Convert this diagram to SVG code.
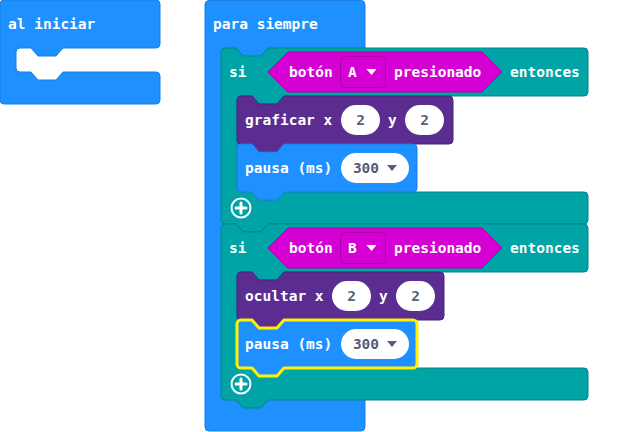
<svg xmlns="http://www.w3.org/2000/svg" width="640" height="432" viewBox="0 0 640 432">
  <style>
    .lbl { font-family: "DejaVu Sans Mono", "Liberation Mono", monospace; font-weight: bold; font-size: 14.5px; fill: #ffffff; }
    .num { font-family: "DejaVu Sans Mono", "Liberation Mono", monospace; font-weight: bold; font-size: 14.5px; fill: #575E75; text-anchor: middle; }
    .basic { fill: #1E90FF; stroke: #1a7fe3; stroke-width: 1; }
    .logic { fill: #00A4A6; stroke: #008587; stroke-width: 1; }
    .led { fill: #5C2D91; stroke: #4b2477; stroke-width: 1; }
    .input { fill: #D400D4; stroke: #a800a8; stroke-width: 1; }
    .dd { fill: #D400D4; stroke: #aa00aa; stroke-width: 1; }
    .oval { fill: #ffffff; }
    .arrow-w { fill: #ffffff; }
    .arrow-g { fill: #575E75; }
    .sel { fill: none; stroke: #FFF200; stroke-width: 3; stroke-linejoin: round; }
    .plus-ring { fill: none; stroke: #ffffff; stroke-width: 2; }
    .plus-bar { stroke: #ffffff; stroke-width: 3; stroke-linecap: round; }
  </style>
  <rect width="640" height="432" fill="#ffffff"/>

  <!-- "al iniciar" event block with an empty statement slot -->
  <g id="al-iniciar">
    <path class="basic" d="M0,4 a4,4 0 0 1 4,-4 H156 a4,4 0 0 1 4,4 V44 a4,4 0 0 1 -4,4 H63 l-7,8 H38 l-7,-8 H20 a4,4 0 0 0 -4,4 V68 a4,4 0 0 0 4,4 H31 l7,8 H56 l7,-8 H156 a4,4 0 0 1 4,4 V100 a4,4 0 0 1 -4,4 H4 a4,4 0 0 1 -4,-4 Z"/>
    <text class="lbl" x="8" y="29">al iniciar</text>
  </g>

  <!-- "para siempre" loop block -->
  <g id="para-siempre">
    <rect class="basic" x="205" y="0.5" width="160" height="430.5" rx="4"/>
    <text class="lbl" x="213" y="29">para siempre</text>
  </g>

  <!-- first if block: button A -->
  <g id="si-boton-a">
    <path class="logic" d="M221,52 a4,4 0 0 1 4,-4 H236 l7,8 H261 l7,-8 H584 a4,4 0 0 1 4,4 V92 a4,4 0 0 1 -4,4 H284 l-7,8 H259 l-7,-8 H241 a4,4 0 0 0 -4,4 V188 a4,4 0 0 0 4,4 H252 l7,8 H277 l7,-8 H584 a4,4 0 0 1 4,4 V220 a4,4 0 0 1 -4,4 H268 l-7,8 H243 l-7,-8 H225 a4,4 0 0 1 -4,-4 Z"/>
    <text class="lbl" x="229" y="77">si</text>
    <path class="input" d="M268,72 L288,52 H482 L502,72 L482,92 H288 Z"/>
    <text class="lbl" x="289" y="77">botón</text>
    <rect class="dd" x="340.5" y="56.5" width="45" height="31" rx="4"/>
    <text class="lbl" x="348" y="77">A</text>
    <path class="arrow-w" d="M366.5,69 h10 l-5,6 z"/>
    <text class="lbl" x="394" y="77">presionado</text>
    <text class="lbl" x="510" y="77">entonces</text>
    <circle class="plus-ring" cx="241" cy="208" r="9.5"/>
    <line class="plus-bar" x1="236" y1="208" x2="246" y2="208"/>
    <line class="plus-bar" x1="241" y1="203" x2="241" y2="213"/>
  </g>

  <!-- graficar x 2 y 2 -->
  <g id="graficar">
    <path class="led" d="M237,100 a4,4 0 0 1 4,-4 H252 l7,8 H277 l7,-8 H449 a4,4 0 0 1 4,4 V140 a4,4 0 0 1 -4,4 H284 l-7,8 H259 l-7,-8 H241 a4,4 0 0 1 -4,-4 Z"/>
    <text class="lbl" x="245" y="125">graficar x</text>
    <rect class="oval" x="341" y="105" width="39" height="30" rx="15"/>
    <text class="num" x="360.5" y="125">2</text>
    <text class="lbl" x="388" y="125">y</text>
    <rect class="oval" x="405" y="105" width="39" height="30" rx="15"/>
    <text class="num" x="424.5" y="125">2</text>
  </g>

  <!-- pausa (ms) 300 -->
  <g id="pausa-1">
    <path class="basic" d="M237,148 a4,4 0 0 1 4,-4 H252 l7,8 H277 l7,-8 H413 a4,4 0 0 1 4,4 V188 a4,4 0 0 1 -4,4 H284 l-7,8 H259 l-7,-8 H241 a4,4 0 0 1 -4,-4 Z"/>
    <text class="lbl" x="245" y="173">pausa (ms)</text>
    <rect class="oval" x="341" y="153" width="68" height="30" rx="15"/>
    <text class="num" x="366" y="173">300</text>
    <path class="arrow-g" d="M387,165 h10 l-5,6 z"/>
  </g>

  <!-- second if block: button B -->
  <g id="si-boton-b">
    <path class="logic" d="M221,228 a4,4 0 0 1 4,-4 H236 l7,8 H261 l7,-8 H584 a4,4 0 0 1 4,4 V268 a4,4 0 0 1 -4,4 H284 l-7,8 H259 l-7,-8 H241 a4,4 0 0 0 -4,4 V364 a4,4 0 0 0 4,4 H252 l7,8 H277 l7,-8 H584 a4,4 0 0 1 4,4 V396 a4,4 0 0 1 -4,4 H268 l-7,8 H243 l-7,-8 H225 a4,4 0 0 1 -4,-4 Z"/>
    <text class="lbl" x="229" y="253">si</text>
    <path class="input" d="M268,248 L288,228 H482 L502,248 L482,268 H288 Z"/>
    <text class="lbl" x="289" y="253">botón</text>
    <rect class="dd" x="340.5" y="232.5" width="45" height="31" rx="4"/>
    <text class="lbl" x="348" y="253">B</text>
    <path class="arrow-w" d="M366.5,245 h10 l-5,6 z"/>
    <text class="lbl" x="394" y="253">presionado</text>
    <text class="lbl" x="510" y="253">entonces</text>
    <circle class="plus-ring" cx="241" cy="384" r="9.5"/>
    <line class="plus-bar" x1="236" y1="384" x2="246" y2="384"/>
    <line class="plus-bar" x1="241" y1="379" x2="241" y2="389"/>
  </g>

  <!-- ocultar x 2 y 2 -->
  <g id="ocultar">
    <path class="led" d="M237,276 a4,4 0 0 1 4,-4 H252 l7,8 H277 l7,-8 H440 a4,4 0 0 1 4,4 V316 a4,4 0 0 1 -4,4 H284 l-7,8 H259 l-7,-8 H241 a4,4 0 0 1 -4,-4 Z"/>
    <text class="lbl" x="245" y="301">ocultar x</text>
    <rect class="oval" x="332" y="281" width="39" height="30" rx="15"/>
    <text class="num" x="351.5" y="301">2</text>
    <text class="lbl" x="379" y="301">y</text>
    <rect class="oval" x="396" y="281" width="39" height="30" rx="15"/>
    <text class="num" x="415.5" y="301">2</text>
  </g>

  <!-- pausa (ms) 300, selected -->
  <g id="pausa-2">
    <path class="basic" d="M237,324 a4,4 0 0 1 4,-4 H252 l7,8 H277 l7,-8 H413 a4,4 0 0 1 4,4 V364 a4,4 0 0 1 -4,4 H284 l-7,8 H259 l-7,-8 H241 a4,4 0 0 1 -4,-4 Z"/>
    <text class="lbl" x="245" y="349">pausa (ms)</text>
    <rect class="oval" x="341" y="329" width="68" height="30" rx="15"/>
    <text class="num" x="366" y="349">300</text>
    <path class="arrow-g" d="M387,341 h10 l-5,6 z"/>
    <path class="sel" d="M237,324 a4,4 0 0 1 4,-4 H252 l7,8 H277 l7,-8 H413 a4,4 0 0 1 4,4 V364 a4,4 0 0 1 -4,4 H284 l-7,8 H259 l-7,-8 H241 a4,4 0 0 1 -4,-4 Z"/>
  </g>

  <g id="connectors"/>
</svg>
